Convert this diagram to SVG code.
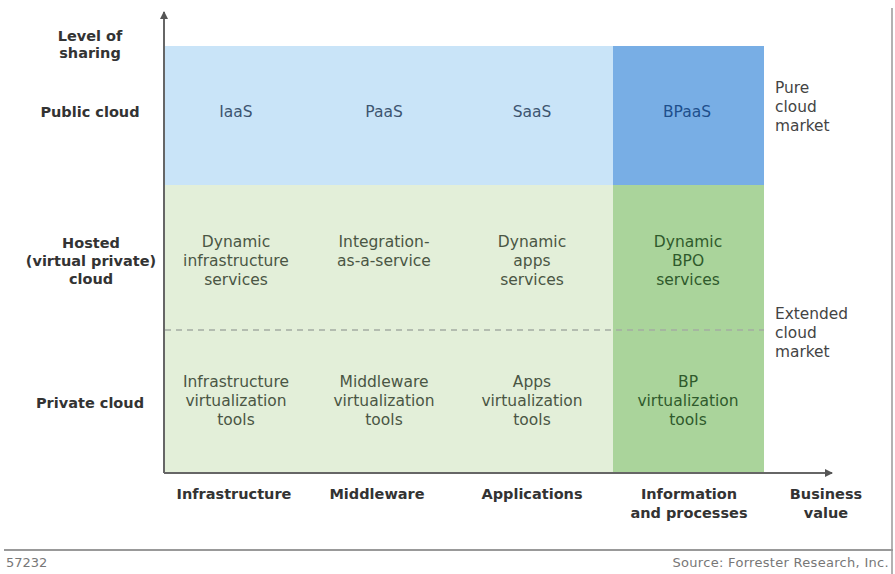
<svg xmlns="http://www.w3.org/2000/svg" width="895" height="574" viewBox="0 0 895 574">
<style>
.lbl{font-family:"DejaVu Sans","Open Sans",sans-serif;font-size:14.5px;font-weight:bold;fill:#333;text-anchor:middle}
.cell{font-family:"DejaVu Sans","Open Sans",sans-serif;font-size:15.5px;text-anchor:middle}
.tb{fill:#3d5570}
.tg{fill:#4a5644}
.tdg{fill:#2f5a2c}
.side{font-family:"DejaVu Sans","Open Sans",sans-serif;font-size:15.4px;fill:#444}
.foot{font-family:"DejaVu Sans","Open Sans",sans-serif;font-size:13px;fill:#777}
</style>
<defs>
<marker id="arr" markerWidth="8" markerHeight="8" refX="7" refY="4" orient="auto" markerUnits="userSpaceOnUse">
<path d="M0,0 L8,4 L0,8 Z" fill="#555"/>
</marker>
</defs>
<rect width="895" height="574" fill="#fff"/>
<g id="regions">
<rect x="165" y="46" width="448" height="139" fill="#c9e4f8"/>
<rect x="613" y="46" width="151" height="139" fill="#78aee5"/>
<rect x="165" y="185" width="448" height="287" fill="#e3efd9"/>
<rect x="613" y="185" width="151" height="287" fill="#aad49b"/>
</g>
<g id="connectors">
<line x1="165" y1="330" x2="764" y2="330" stroke="#a4aca2" stroke-width="1.5" stroke-dasharray="6 5"/>
<line x1="164" y1="473" x2="164" y2="12" stroke="#666" stroke-width="2" marker-end="url(#arr)"/>
<line x1="164" y1="473" x2="832" y2="473" stroke="#666" stroke-width="2" marker-end="url(#arr)"/>
<line x1="4" y1="550" x2="893" y2="550" stroke="#999" stroke-width="2"/>
<line x1="892" y1="8" x2="892" y2="574" stroke="#999" stroke-width="1.5"/>
</g>
<g id="row-labels">
<text class="lbl" x="90" y="41">Level of</text>
<text class="lbl" x="90" y="58">sharing</text>
<text class="lbl" x="90" y="117">Public cloud</text>
<text class="lbl" x="91" y="248">Hosted</text>
<text class="lbl" x="91" y="266">(virtual private)</text>
<text class="lbl" x="91" y="284">cloud</text>
<text class="lbl" x="90" y="408">Private cloud</text>
</g>
<g id="node-iaas"><text class="cell tb" x="236" y="117">IaaS</text></g>
<g id="node-paas"><text class="cell tb" x="384" y="117">PaaS</text></g>
<g id="node-saas"><text class="cell tb" x="532" y="117">SaaS</text></g>
<g id="node-bpaas"><text class="cell" x="687" y="117" fill="#1e4f8c">BPaaS</text></g>
<g id="node-dyn-infra">
<text class="cell tg" x="236" y="247">Dynamic</text>
<text class="cell tg" x="236" y="266">infrastructure</text>
<text class="cell tg" x="236" y="285">services</text>
</g>
<g id="node-iaas-svc">
<text class="cell tg" x="384" y="247">Integration-</text>
<text class="cell tg" x="384" y="266">as-a-service</text>
</g>
<g id="node-dyn-apps">
<text class="cell tg" x="532" y="247">Dynamic</text>
<text class="cell tg" x="532" y="266">apps</text>
<text class="cell tg" x="532" y="285">services</text>
</g>
<g id="node-dyn-bpo">
<text class="cell tdg" x="688" y="247">Dynamic</text>
<text class="cell tdg" x="688" y="266">BPO</text>
<text class="cell tdg" x="688" y="285">services</text>
</g>
<g id="node-infra-virt">
<text class="cell tg" x="236" y="387">Infrastructure</text>
<text class="cell tg" x="236" y="406">virtualization</text>
<text class="cell tg" x="236" y="425">tools</text>
</g>
<g id="node-mw-virt">
<text class="cell tg" x="384" y="387">Middleware</text>
<text class="cell tg" x="384" y="406">virtualization</text>
<text class="cell tg" x="384" y="425">tools</text>
</g>
<g id="node-apps-virt">
<text class="cell tg" x="532" y="387">Apps</text>
<text class="cell tg" x="532" y="406">virtualization</text>
<text class="cell tg" x="532" y="425">tools</text>
</g>
<g id="node-bp-virt">
<text class="cell tdg" x="688" y="387">BP</text>
<text class="cell tdg" x="688" y="406">virtualization</text>
<text class="cell tdg" x="688" y="425">tools</text>
</g>
<g id="side-labels">
<text class="side" x="775" y="93">Pure</text>
<text class="side" x="775" y="112">cloud</text>
<text class="side" x="775" y="131">market</text>
<text class="side" x="775" y="319">Extended</text>
<text class="side" x="775" y="338">cloud</text>
<text class="side" x="775" y="357">market</text>
</g>
<g id="column-labels">
<text class="lbl" x="234" y="499">Infrastructure</text>
<text class="lbl" x="377" y="499">Middleware</text>
<text class="lbl" x="532" y="499">Applications</text>
<text class="lbl" x="689" y="499">Information</text>
<text class="lbl" x="689" y="518">and processes</text>
<text class="lbl" x="826" y="499">Business</text>
<text class="lbl" x="826" y="518">value</text>
</g>
<g id="footer">
<text class="foot" x="6" y="567">57232</text>
<text class="foot" x="889" y="567" text-anchor="end" letter-spacing="0.3">Source: Forrester Research, Inc.</text>
</g>
</svg>
